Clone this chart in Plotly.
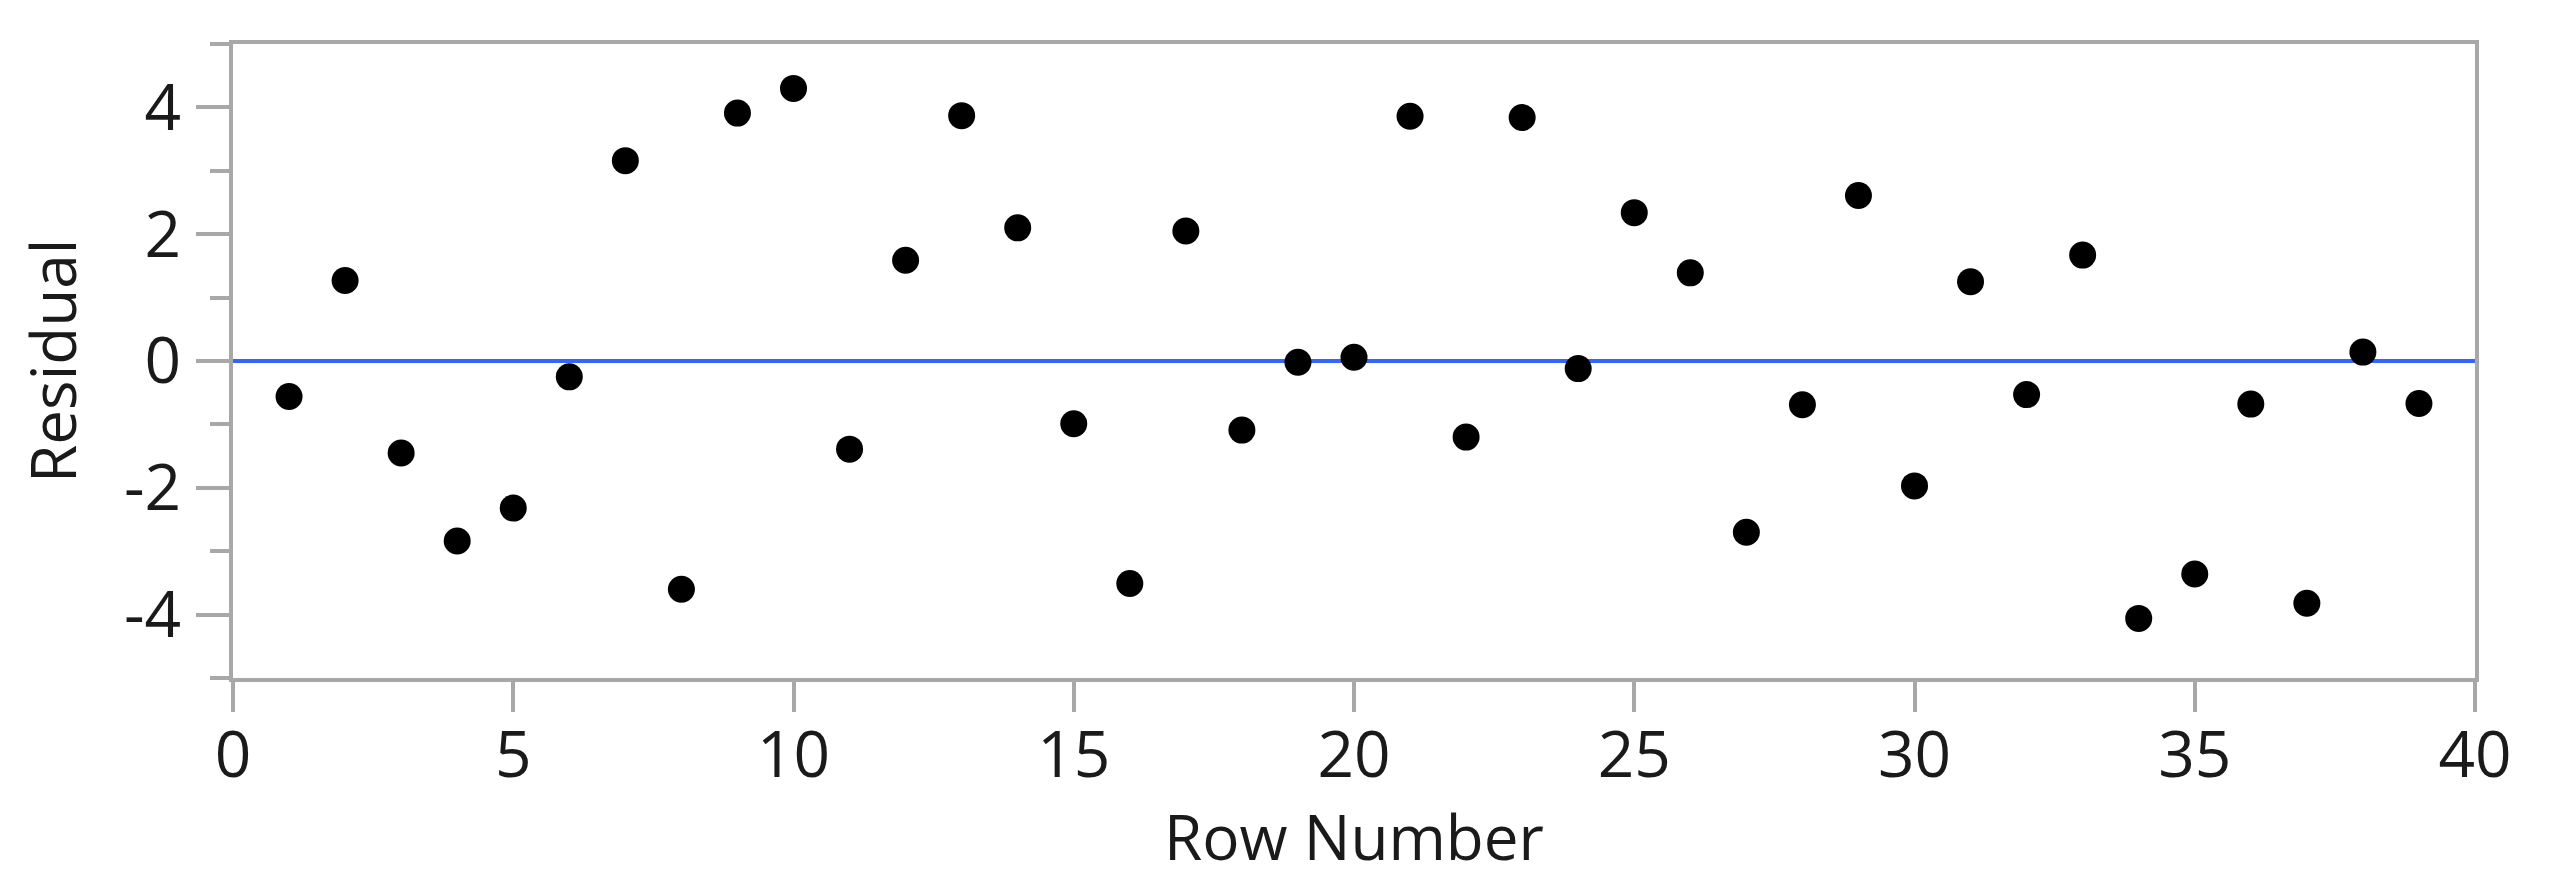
import plotly.graph_objects as go

row_number = list(range(1, 40))
residual = [
    -0.56, 1.27, -1.45, -2.84, -2.32, -0.25, 3.16, -3.60, 3.91, 4.30,
    -1.39, 1.59, 3.87, 2.10, -0.99, -3.51, 2.05, -1.09, -0.02, 0.06,
    3.86, -1.20, 3.84, -0.12, 2.34, 1.39, -2.70, -0.69, 2.61, -1.97,
    1.25, -0.53, 1.67, -4.06, -3.36, -0.68, -3.82, 0.14, -0.67,
]
reference_y = 0
x_range = [0, 40]
y_range = [-5, 5]
x_ticks = [0, 5, 10, 15, 20, 25, 30, 35, 40]
y_ticks = [-4, -2, 0, 2, 4]
x_title = "Row Number"
y_title = "Residual"

FONT = "Open Sans"
AXIS_GRAY = "#A8A8A8"
TEXT = "#1a1a1a"
TICK_SIZE = 64
TITLE_SIZE = 62

fig = go.Figure()
fig.add_trace(go.Scatter(
    x=row_number, y=residual, mode="markers",
    marker=dict(color="black", size=27, line=dict(width=0)),
    showlegend=False, cliponaxis=False,
))
fig.add_hline(y=reference_y, line=dict(color="#3366FF", width=4), layer="below")

fig.update_layout(
    width=2536, height=880,
    margin=dict(l=225, r=69, t=36, b=210, autoexpand=False),
    paper_bgcolor="white", plot_bgcolor="white",
    font=dict(family=FONT, size=TICK_SIZE, color=TEXT),
    annotations=[
        dict(text=x_title, xref="paper", yref="paper", x=0.5, y=0,
             xanchor="center", yanchor="middle", yshift=-158, showarrow=False,
             font=dict(family=FONT, size=TITLE_SIZE, color=TEXT)),
        dict(text=y_title, xref="paper", yref="paper", x=0, y=0.5,
             xanchor="center", yanchor="middle", xshift=-181, textangle=-90,
             showarrow=False, font=dict(family=FONT, size=TITLE_SIZE, color=TEXT)),
    ],
)
fig.update_xaxes(
    range=x_range, tickmode="array", tickvals=x_ticks,
    ticktext=[str(v) for v in x_ticks],
    showgrid=False, zeroline=False,
    showline=True, linecolor=AXIS_GRAY, linewidth=4, mirror=True,
    ticks="outside", ticklen=30, tickwidth=4, tickcolor=AXIS_GRAY,
    tickfont=dict(family=FONT, size=TICK_SIZE, color=TEXT),
    ticklabelstandoff=-12,
    automargin=False,
)
fig.update_yaxes(
    range=y_range, tickmode="array", tickvals=y_ticks,
    ticktext=[str(v) for v in y_ticks],
    showgrid=False, zeroline=False,
    showline=True, linecolor=AXIS_GRAY, linewidth=4, mirror=True,
    ticks="outside", ticklen=33, tickwidth=4, tickcolor=AXIS_GRAY,
    minor=dict(dtick=1, tick0=0, ticks="outside", ticklen=19, tickwidth=4,
               tickcolor=AXIS_GRAY, showgrid=False),
    tickfont=dict(family=FONT, size=TICK_SIZE, color=TEXT),
    ticklabelstandoff=2,
    automargin=False,
)

fig.write_html("out.html")
